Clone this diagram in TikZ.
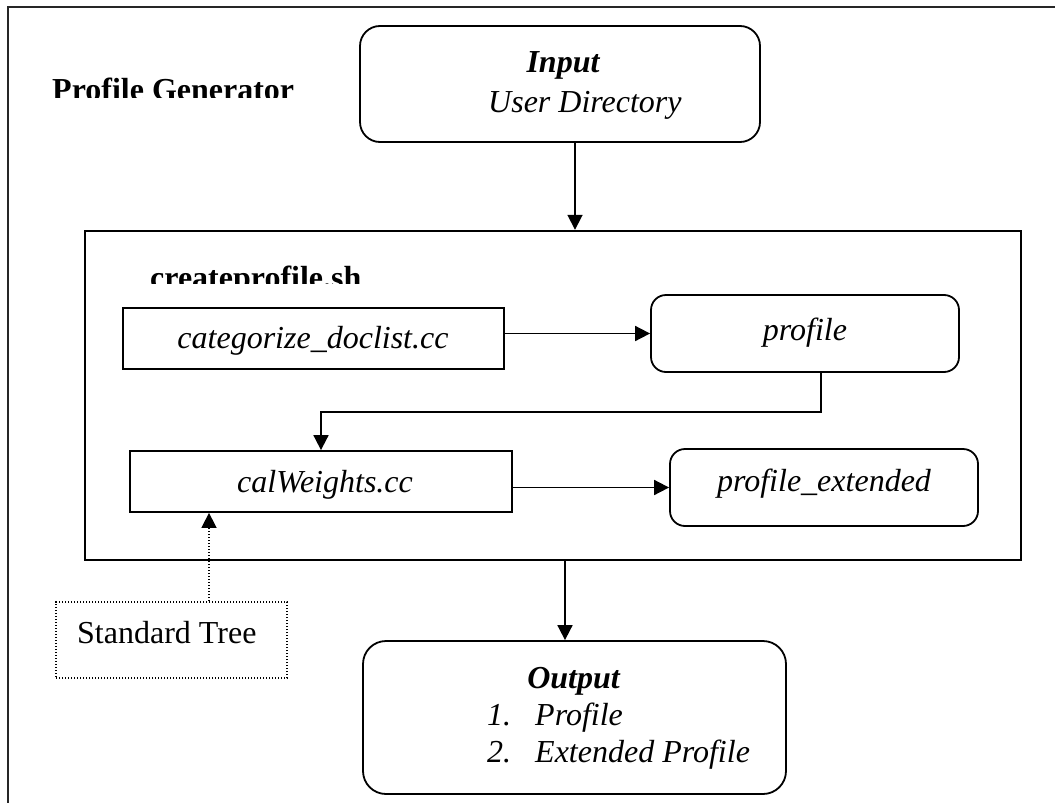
\documentclass[tikz,border=0pt]{standalone}
\usepackage{fontspec}
\setmainfont{Liberation Serif}
\usetikzlibrary{arrows.meta}
\begin{document}
\begin{tikzpicture}[x=1pt,y=-1pt,
  every node/.style={font=\fontsize{32}{38}\selectfont},
  box/.style={draw, line width=1.8pt, inner sep=0pt},
  rbox/.style={box, rounded corners=#1},
  txt/.style={inner sep=0pt, anchor=base},
  txtw/.style={inner sep=0pt, anchor=base west},
  arr/.style={line width=1.8pt, -{Triangle[length=15pt,width=15pt]}},
  dotarr/.style={line width=1.6pt, dash pattern=on 1.2pt off 1.8pt, -{Triangle[length=15pt,width=15pt]}}]
\useasboundingbox (0,0) rectangle (1055,803);
% outer frame (open on right and bottom)
\draw[line width=1.6pt, black!85] (8,803) -- (8,7) -- (1055,7);

% title
\begin{scope}
  \clip (40,60) rectangle (330,97);
  \node[txtw] (title) at (52,100) {\bfseries Profile Generator};
\end{scope}

% input box
\node[rbox=20pt, minimum width=400pt, minimum height=116pt] (input) at (560,84) {};
\node[txt] (inputT) at (563,72) {\bfseries\itshape Input};
\node[txtw] (inputU) at (488,112) {\itshape User Directory};

% createprofile container
\node[draw, line width=2.4pt, inner sep=0pt, minimum width=936pt, minimum height=329pt] (cp) at (553,395.5) {};
\begin{scope}
  \clip (140,255) rectangle (400,283);
  \node[txtw] (cpT) at (150,288) {\bfseries createprofile.sh};
\end{scope}

% inner boxes
\node[box, minimum width=381pt, minimum height=61pt] (cat) at (313.5,338.5) {};
\node[txt] (catT) at (313,348) {\itshape categorize\_doclist.cc};

\node[rbox=15pt, minimum width=308pt, minimum height=77pt] (prof) at (805,333.5) {};
\node[txt] (profT) at (805,340) {\itshape profile};

\node[box, minimum width=382pt, minimum height=61pt] (cal) at (321,481.5) {};
\node[txt] (calT) at (325,492) {\itshape calWeights.cc};

\node[rbox=15pt, minimum width=308pt, minimum height=77pt] (ext) at (824,487.5) {};
\node[txt] (extT) at (824,491) {\itshape profile\_extended};

% standard tree
\node[draw, line width=1.6pt, dash pattern=on 1.2pt off 1.8pt, inner sep=0pt, minimum width=231pt, minimum height=76pt] (std) at (171.5,640) {};
\node[txtw] (stdT) at (77,643) {Standard Tree};

% output box
\node[rbox=23pt, minimum width=423pt, minimum height=153pt] (out) at (574.5,717.5) {};
\node[txt] (outT) at (573.5,688) {\bfseries\itshape Output};
\node[txtw] (out1n) at (487,725) {\itshape 1.};
\node[txtw] (out1) at (535,725) {\itshape Profile};
\node[txtw] (out2n) at (487,762) {\itshape 2.};
\node[txtw] (out2) at (535,762) {\itshape Extended Profile};

% connectors
\draw[arr] ([xshift=15pt]input.south) -- ([xshift=15pt]input.south |- cp.north);
\draw[arr] (cat.east |- prof.west) -- (prof.west);
\draw[arr] ([xshift=16pt]prof.south) -- ++(0,39) -| (cal.north);
\draw[arr] (cal.east |- ext.west) -- (ext.west);
\draw[arr] ([xshift=12pt]cp.south) -- ([xshift=12pt]cp.south |- out.north);
\draw[dotarr] ([xshift=37.5pt]std.north) -- ([xshift=37.5pt]std.north |- cal.south);
\end{tikzpicture}
\end{document}
